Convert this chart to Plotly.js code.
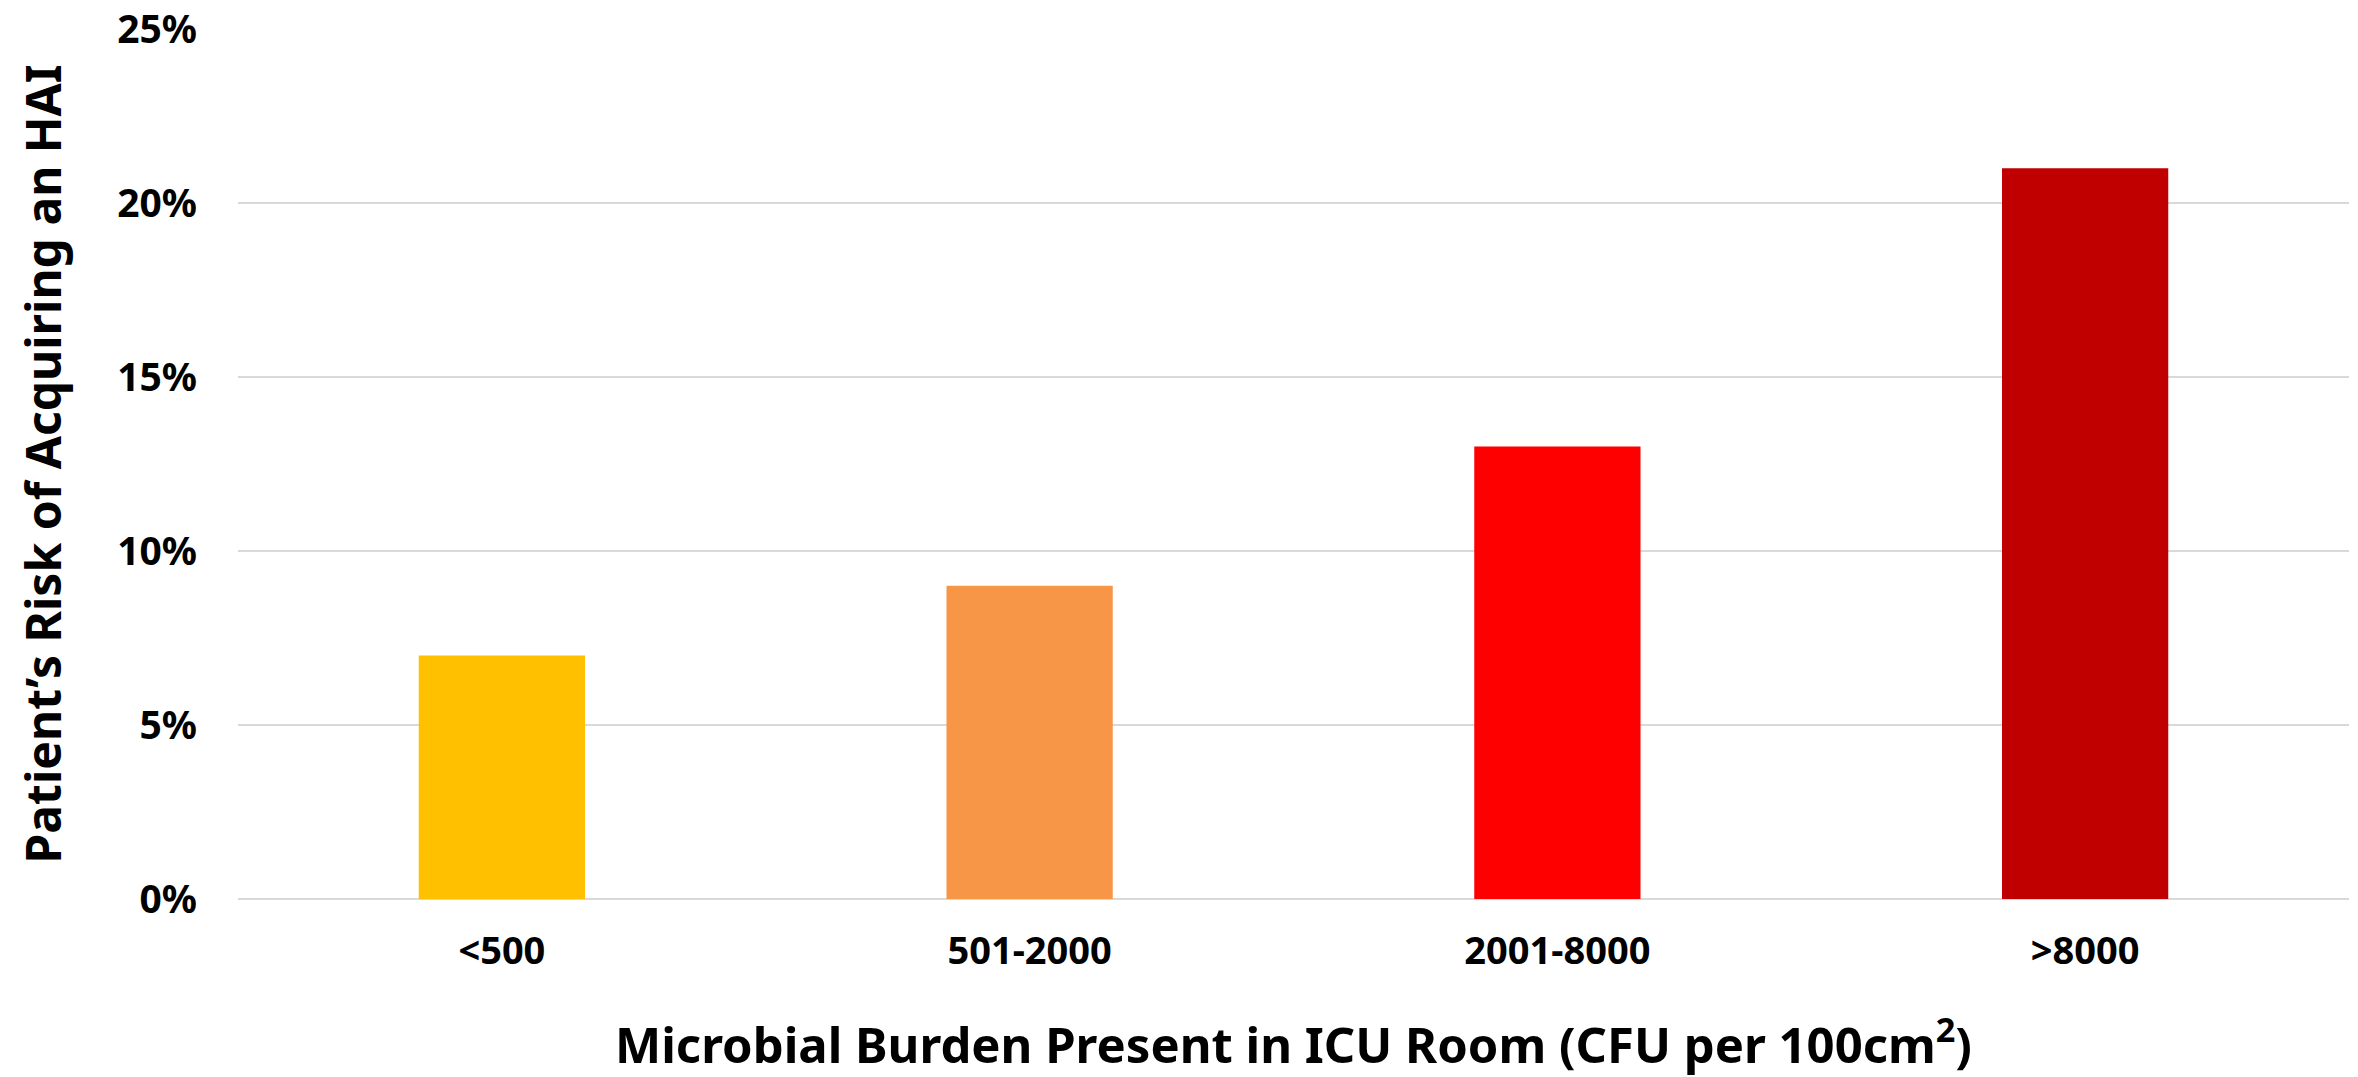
<!DOCTYPE html>
<html>
<head>
<meta charset="utf-8">
<script src="https://cdn.plot.ly/plotly-3.0.1.min.js"></script>
<style>
  html, body { margin: 0; padding: 0; background: #fff; }
  #chart { width: 2358px; height: 1077px; }
</style>
</head>
<body>
<div id="chart"></div>
<script>
// microbial burden bins and HAI risk
var categories = ['<500', '501-2000', '2001-8000', '>8000']
var risk = [0.07, 0.09, 0.13, 0.21]
var barColors = ['#FFC000', '#F79646', '#FF0000', '#C00000']

var font = 'Noto Sans, Open Sans, sans-serif'

var trace = {
  type: 'bar',
  x: categories,
  y: risk,
  marker: { color: barColors, line: { width: 0 } },
  hoverinfo: 'x+y'
}

var layout = {
  width: 2358,
  height: 1077,
  margin: { l: 238, r: 9, t: 29, b: 178 },
  paper_bgcolor: '#ffffff',
  plot_bgcolor: '#ffffff',
  bargap: 0.685,
  showlegend: false,
  font: { family: font, color: '#000000' },
  xaxis: {
    type: 'category',
    showgrid: false,
    showline: false,
    zeroline: false,
    ticks: '',
    ticklabelstandoff: 26,
    tickfont: { family: font, size: 38, weight: 'bold', color: '#000000' },
    title: {
      text: 'Microbial Burden Present in ICU Room (CFU per 100cm<sup>2</sup>)',
      font: { family: font, size: 49, weight: 'bold', color: '#000000' },
      standoff: 59
    },
    automargin: false
  },
  yaxis: {
    range: [0, 0.25],
    dtick: 0.05,
    tickformat: '.0%',
    showgrid: true,
    gridcolor: '#d9d9d9',
    gridwidth: 2,
    zeroline: true,
    zerolinecolor: '#d9d9d9',
    zerolinewidth: 2,
    showline: false,
    ticks: '',
    ticklabelstandoff: 40,
    tickfont: { family: font, size: 39, weight: 'bold', color: '#000000' },
    title: {
      text: 'Patient’s Risk of Acquiring an HAI',
      font: { family: font, size: 48, weight: 'bold', color: '#000000' },
      standoff: 40
    },
    automargin: false
  }
}

Plotly.newPlot('chart', [trace], layout, { displayModeBar: false, staticPlot: true })
</script>
</body>
</html>
